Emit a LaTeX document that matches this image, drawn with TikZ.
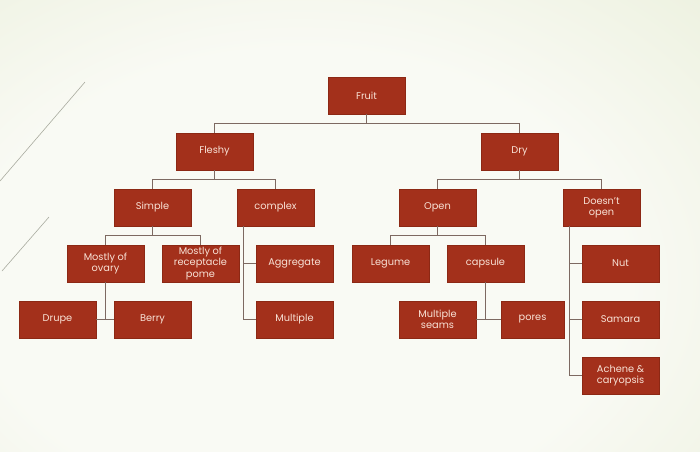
\documentclass[tikz,border=0pt]{standalone}
\usepackage{fontspec}
\setmainfont{Poppins}
\usetikzlibrary{positioning,calc}
\definecolor{fruitred}{HTML}{A3301B}
\definecolor{fruitedge}{HTML}{8C2814}
\definecolor{fruitink}{HTML}{F8E2D6}
\definecolor{stemline}{HTML}{7D6961}
\definecolor{paperin}{HTML}{F9FAF4}
\definecolor{paperout}{HTML}{DEE6C6}
\definecolor{facetgray}{HTML}{A9AB9F}
\pgfdeclareradialshading{paper}{\pgfpoint{0bp}{0bp}}{%
  color(0bp)=(paperin); color(18bp)=(paperin); color(50bp)=(paperout); color(72bp)=(paperout)}

\begin{document}
\begin{tikzpicture}[
  x=1pt, y=-1pt,
  font=\fontsize{9.8}{11.2}\selectfont,
  kind/.style = {draw=fruitedge, line width=0.4pt, fill=fruitred, text=fruitink,
                 minimum width=77pt, minimum height=37pt, inner sep=1pt, align=center},
  ln/.style   = {draw=stemline, line width=1.3pt},
  facet/.style = {draw=facetgray, line width=0.6pt},
]

% --- page -----------------------------------------------------------------------------------------
\useasboundingbox (0,0) rectangle (700,451);
\begin{scope}
  \clip (0,0) rectangle (700,451);
  \shade[shading=paper] (-150,-40) rectangle (750,600);
\end{scope}
\draw[facet] (0,181) -- (85,82);
\draw[facet] (2,271) -- (49,217);

% --- root and first split ----------------------------------------------------------------------------
\node[kind] (fruit)  at (366.5,95.5)  {Fruit};
\node[kind] (fleshy) at (214.5,151.5) {Fleshy};
\node[kind] (dry)    at (519.5,151.5) {Dry};
\draw[ln] (fruit.south) -- ++(0,9) -| (fleshy.north);
\draw[ln] (fruit.south) -- ++(0,9) -| (dry.north);

% --- fleshy side -------------------------------------------------------------------------------------
\node[kind] (simple) at (152.5,207.5) {Simple};
\node[kind] (cplx)   at (275.5,207.5) {complex};
\draw[ln] (fleshy.south) -- ++(0,9) -| (simple.north);
\draw[ln] (fleshy.south) -- ++(0,9) -| (cplx.north);

\node[kind] (ovary) at (105.5,263.5) {Mostly of\\ovary};
\node[kind] (recep) at (200.5,263.5) {Mostly of\\receptacle\\pome};
\draw[ln] (simple.south) -- ++(0,9) -| (ovary.north);
\draw[ln] (simple.south) -- ++(0,9) -| (recep.north);

\node[kind] (drupe) at (57.5,319.5)  {Drupe};
\node[kind] (berry) at (152.5,319.5) {Berry};
\draw[ln] (ovary.south) -- (ovary.south |- drupe.east);
\draw[ln] (drupe.east) -- (berry.west);

\node[kind] (aggr)  at (294.5,263.5) {Aggregate};
\node[kind] (multi) at (294.5,319.5) {Multiple};
\draw[ln] ([xshift=7pt]cplx.south west) |- (aggr.west);
\draw[ln] ([xshift=7pt]cplx.south west) |- (multi.west);

% --- dry side ----------------------------------------------------------------------------------------
\node[kind] (open) at (437.5,207.5) {Open};
\node[kind] (shut) at (601.5,207.5) {Doesn't\\open};
\draw[ln] (dry.south) -- ++(0,9) -| (open.north);
\draw[ln] (dry.south) -- ++(0,9) -| (shut.north);

\node[kind] (legume) at (390.5,263.5) {Legume};
\node[kind] (caps)   at (485.5,263.5) {capsule};
\draw[ln] (open.south) -- ++(0,9) -| (legume.north);
\draw[ln] (open.south) -- ++(0,9) -| (caps.north);

\node[kind] (seams) at (437.5,319.5) {Multiple\\seams};
\node[kind, minimum width=63pt] (pores) at (532.5,319.5) {pores};
\draw[ln] (caps.south) -- (caps.south |- seams.east);
\draw[ln] (seams.east) -- (pores.west);

\node[kind] (nut)    at (620.5,263.5) {Nut};
\node[kind] (samara) at (620.5,319.5) {Samara};
\node[kind] (achene) at (620.5,375.5) {Achene \&\\caryopsis};
\draw[ln] ([xshift=7pt]shut.south west) |- (nut.west);
\draw[ln] ([xshift=7pt]shut.south west) |- (samara.west);
\draw[ln] ([xshift=7pt]shut.south west) |- (achene.west);

\end{tikzpicture}
\end{document}
